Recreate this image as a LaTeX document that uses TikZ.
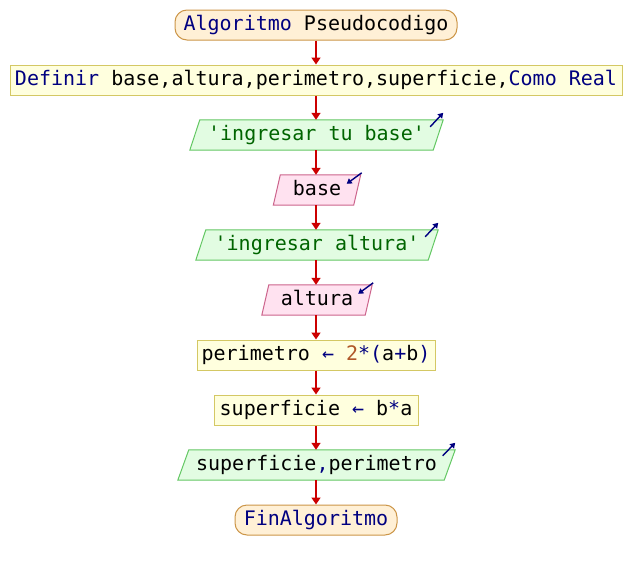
\documentclass[tikz,border=0pt]{standalone}
\usepackage{fontspec}
\setmonofont{DejaVu Sans Mono}
\usetikzlibrary{arrows.meta,backgrounds}

% palette of the flowchart
\definecolor{kw}{RGB}{0,0,128}
\definecolor{strc}{RGB}{0,100,0}
\definecolor{numc}{RGB}{176,88,40}
\definecolor{flowc}{RGB}{204,0,0}
\definecolor{termfill}{RGB}{255,240,214}
\definecolor{termline}{RGB}{204,150,72}
\definecolor{procfill}{RGB}{255,255,222}
\definecolor{procline}{RGB}{212,200,100}
\definecolor{outfill}{RGB}{226,252,226}
\definecolor{outline}{RGB}{100,200,100}
\definecolor{infill}{RGB}{255,226,240}
\definecolor{inline}{RGB}{204,100,140}

% parallelogram drawn around a rectangular node: #1 node, #2 half slant, #3 style
\newcommand{\slanted}[3]{%
  \draw[#3] ([xshift=-#2pt]#1.south west) -- ([xshift=#2pt]#1.north west)
    -- ([xshift=#2pt]#1.north east) -- ([xshift=-#2pt]#1.south east) -- cycle;}

\begin{document}
\begin{tikzpicture}[x=1pt,y=-1pt,
  txt/.style={font=\ttfamily\fontsize{20}{24}\selectfont, inner sep=0pt,
    minimum height=30pt, text height=15pt, text depth=4pt},
  term/.style={txt, draw=termline, fill=termfill, line width=1pt, rounded corners=12pt},
  proc/.style={txt, draw=procline, fill=procfill, line width=1pt},
  io/.style={txt},
  outshape/.style={draw=outline, fill=outfill, line width=1pt},
  inshape/.style={draw=inline, fill=infill, line width=1pt},
  flow/.style={draw=flowc, line width=1.6pt, -{Triangle[length=7pt,width=9pt]}},
  sig/.style={draw=kw, line width=1.4pt, -{Triangle[length=5pt,width=6pt]}}]

\useasboundingbox (0,0) rectangle (632,570);

\node[term, minimum width=282pt] (start) at (316,25)
  {{\color{kw}Algoritmo} Pseudocodigo};
\node[proc, minimum width=612pt] (def) at (316,80)
  {{\color{kw}Definir} base,altura,perimetro,superficie,{\color{kw}Como Real}};
\node[io, minimum width=243pt] (out1) at (316.5,135)
  {\color{strc}'ingresar tu base'};
\node[io, minimum width=80pt] (in1) at (317,190) {base};
\node[io, minimum width=232pt] (out2) at (317,245)
  {\color{strc}'ingresar altura'};
\node[io, minimum width=103pt] (in2) at (317,300) {altura};
\node[proc, minimum width=238pt] (per) at (316,355)
  {perimetro {\color{kw}←} {\color{numc}2}{\color{kw}*(}a{\color{kw}+}b{\color{kw})}};
\node[proc, minimum width=204pt] (sup) at (316,410)
  {superficie {\color{kw}←} b{\color{kw}*}a};
\node[io, minimum width=266pt] (out3) at (316.5,465)
  {superficie{\color{kw},}perimetro};
\node[term, minimum width=162pt] (fin) at (316,520)
  {\color{kw}FinAlgoritmo};

\begin{pgfonlayer}{background}
  \fill[white] (0,0) rectangle (632,570);
  \slanted{out1}{5}{outshape}
  \slanted{out2}{5}{outshape}
  \slanted{out3}{5.5}{outshape}
  \slanted{in1}{3.5}{inshape}
  \slanted{in2}{3.5}{inshape}
\end{pgfonlayer}

% output markers pointing outwards, input markers pointing inwards
\draw[sig] ([shift={(-8,7)}]out1.north east) -- ([shift={(5,-7)}]out1.north east);
\draw[sig] ([shift={(-8,7)}]out2.north east) -- ([shift={(5,-7)}]out2.north east);
\draw[sig] ([shift={(-7,6)}]out3.north east) -- ([shift={(5.5,-7)}]out3.north east);
\draw[sig] ([shift={(4.5,-2)}]in1.north east) -- ([shift={(-10.5,9)}]in1.north east);
\draw[sig] ([shift={(4.5,-2)}]in2.north east) -- ([shift={(-10.5,9)}]in2.north east);

% sequence of steps
\draw[flow] (start.south) -- (def.north);
\draw[flow] (def.south) -- (def.south |- out1.north);
\draw[flow] (out1.south -| def.south) -- (def.south |- in1.north);
\draw[flow] (in1.south -| def.south) -- (def.south |- out2.north);
\draw[flow] (out2.south -| def.south) -- (def.south |- in2.north);
\draw[flow] (in2.south -| def.south) -- (per.north);
\draw[flow] (per.south) -- (sup.north);
\draw[flow] (sup.south) -- (sup.south |- out3.north);
\draw[flow] (out3.south -| sup.south) -- (fin.north);
\end{tikzpicture}
\end{document}
